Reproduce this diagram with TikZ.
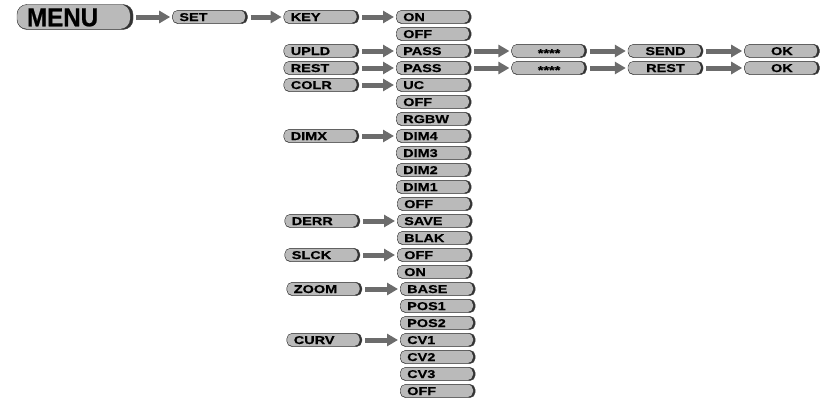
\documentclass[tikz,border=0pt]{standalone}
\usepackage{fontspec}
\usepackage{tikz}
\usetikzlibrary{positioning}
\usetikzlibrary{arrows.meta}
\newfontfamily\pillfont{Liberation Sans Bold}[FakeStretch=1.28,FakeBold=0.5]
\newfontfamily\menufont{Liberation Sans Bold}[FakeStretch=0.93,FakeBold=0.8]
\definecolor{pillgray}{RGB}{186,186,186}
\definecolor{arrowgray}{RGB}{108,108,108}
\begin{document}
\begin{tikzpicture}
[x=1pt,y=-1pt,node distance=3.2pt,
  pill shade/.style 2 args={path picture={\fill[pillgray,rounded corners=#1]
      ([yshift=0.6pt]path picture bounding box.south west) rectangle
      ([xshift=-#2]path picture bounding box.north east);}},
  pill node/.style={rectangle,rounded corners=5.5pt,draw=black!75,line width=0.4pt,
    fill=black!80,pill shade={5.5pt}{2.2pt},minimum width=75pt,minimum height=13.4pt,
    inner sep=0pt,text width=61pt,align=left,text height=8pt,text depth=0pt,
    font=\pillfont\fontsize{11.3}{12}\selectfont},
  mid node/.style={pill node,align=center},
  menu node/.style={pill node,rounded corners=10pt,pill shade={10pt}{3pt},
    minimum width=116pt,minimum height=25pt,text width=96pt,text height=18.5pt,
    font=\menufont\fontsize{26}{28}\selectfont},
  fat arrow/.style={draw=arrowgray,line width=5pt,
    -{Triangle[length=11pt,width=12pt]},shorten <=3pt,shorten >=2pt}]

    \useasboundingbox (0,0) rectangle (827,399);

    \node [menu node] (menu) at (75,17) {MENU};
    \node [pill node] (set) [right=39pt of menu] {SET};
    \node [pill node] (key) [right=36pt of set] {KEY};

    % right column
    \node [pill node] (on1) [right=37pt of key] {ON};
    \node [pill node] (off1) [below=of on1] {OFF};
    \node [pill node] (pass1) [below=of off1] {PASS};
    \node [pill node] (pass2) [below=of pass1] {PASS};
    \node [pill node] (uc) [below=of pass2] {UC};
    \node [pill node] (off2) [below=of uc] {OFF};
    \node [pill node] (rgbw) [below=of off2] {RGBW};
    \node [pill node] (dim4) [below=of rgbw] {DIM4};
    \node [pill node] (dim3) [below=of dim4] {DIM3};
    \node [pill node] (dim2) [below=of dim3] {DIM2};
    \node [pill node] (dim1) [below=of dim2] {DIM1};
    \node [pill node] (off3) [below=of dim1, xshift=1pt] {OFF};
    \node [pill node] (save) [below=of off3] {SAVE};
    \node [pill node] (blak) [below=of save] {BLAK};
    \node [pill node] (off4) [below=of blak] {OFF};
    \node [pill node] (on2) [below=of off4] {ON};
    \node [pill node] (base) [below=of on2, xshift=3pt] {BASE};
    \node [pill node] (pos1) [below=of base] {POS1};
    \node [pill node] (pos2) [below=of pos1] {POS2};
    \node [pill node] (cv1) [below=of pos2] {CV1};
    \node [pill node] (cv2) [below=of cv1] {CV2};
    \node [pill node] (cv3) [below=of cv2] {CV3};
    \node [pill node] (off5) [below=of cv3] {OFF};

    % left column
    \node [pill node] (upld) [left=37pt of pass1] {UPLD};
    \node [pill node] (rest) [left=37pt of pass2] {REST};
    \node [pill node] (colr) [left=37pt of uc] {COLR};
    \node [pill node] (dimx) [left=37pt of dim4] {DIMX};
    \node [pill node] (derr) [left=37pt of save] {DERR};
    \node [pill node] (slck) [left=37pt of off4] {SLCK};
    \node [pill node] (zoom) [left=38pt of base] {ZOOM};
    \node [pill node] (curv) [left=38pt of cv1] {CURV};

    % password rows
    \node [mid node] (stars1) [right=40pt of pass1] {\raisebox{-2pt}{****}};
    \node [mid node] (send) [right=41pt of stars1] {SEND};
    \node [mid node] (ok1) [right=41pt of send] {OK};
    \node [mid node] (stars2) [right=40pt of pass2] {\raisebox{-2pt}{****}};
    \node [mid node] (rest2) [right=41pt of stars2] {REST};
    \node [mid node] (ok2) [right=41pt of rest2] {OK};

    \draw[fat arrow] (menu) -- (set);
    \draw[fat arrow] (set) -- (key);
    \draw[fat arrow] (key) -- (on1);
    \draw[fat arrow] (upld) -- (pass1);
    \draw[fat arrow] (rest) -- (pass2);
    \draw[fat arrow] (pass1) -- (stars1);
    \draw[fat arrow] (stars1) -- (send);
    \draw[fat arrow] (send) -- (ok1);
    \draw[fat arrow] (pass2) -- (stars2);
    \draw[fat arrow] (stars2) -- (rest2);
    \draw[fat arrow] (rest2) -- (ok2);
    \draw[fat arrow] (colr) -- (uc);
    \draw[fat arrow] (dimx) -- (dim4);
    \draw[fat arrow] (derr) -- (save);
    \draw[fat arrow] (slck) -- (off4);
    \draw[fat arrow] (zoom) -- (base);
    \draw[fat arrow] (curv) -- (cv1);
\end{tikzpicture}
\end{document}
